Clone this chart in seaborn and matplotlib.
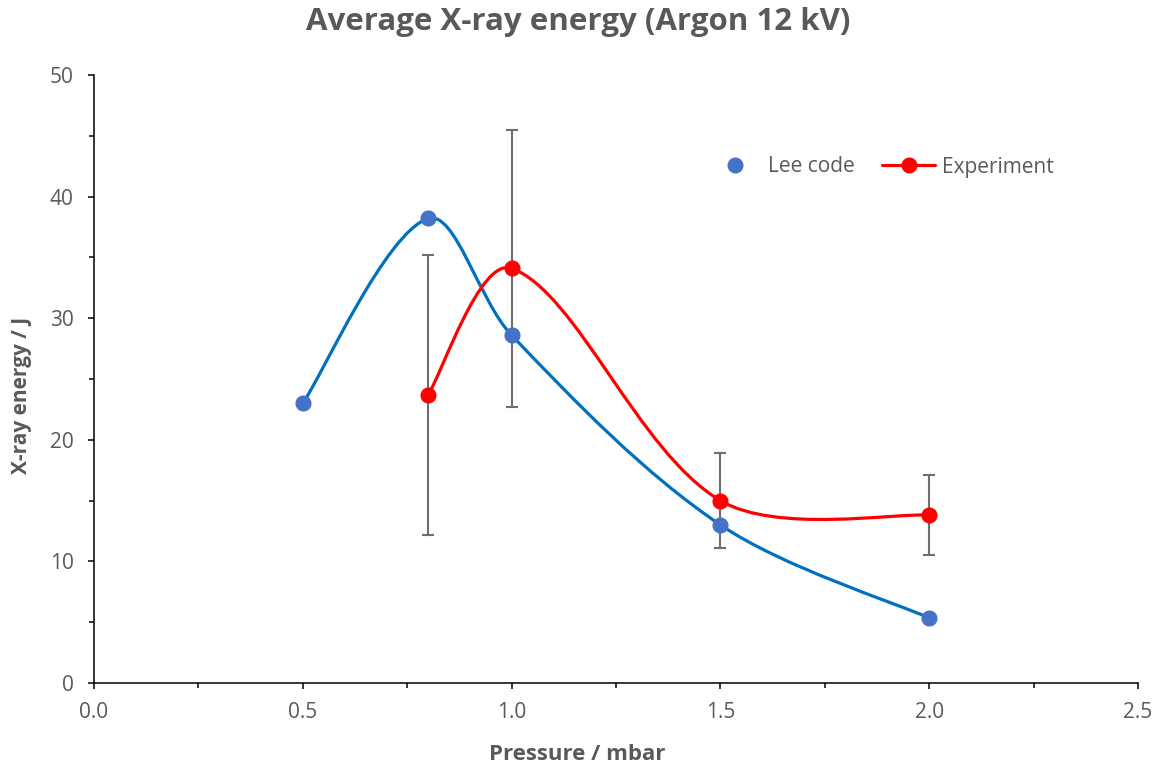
import numpy as np
import pandas as pd
import seaborn as sns
import matplotlib
matplotlib.use("Agg")
import matplotlib.pyplot as plt
from matplotlib.path import Path
from matplotlib.patches import PathPatch
from matplotlib.lines import Line2D
from matplotlib.ticker import MultipleLocator, FormatStrFormatter

# ---- data ----
lee_pressure = [0.5, 0.8, 1.0, 1.5, 2.0]
lee_energy = [23.0, 38.2, 28.6, 13.0, 5.35]
exp_pressure = [0.8, 1.0, 1.5, 2.0]
exp_energy = [23.7, 34.1, 15.0, 13.8]
exp_error = [11.5, 11.4, 3.9, 3.3]
title = "Average X-ray energy (Argon 12 kV)"
xlabel = "Pressure / mbar"
ylabel = "X-ray energy / J"

sns.set_theme(style="white")
plt.rcParams['font.family'] = ['Open Sans', 'DejaVu Sans']

GRAY = "#595959"
BLUE_LINE = "#0070C0"
BLUE_MARK = "#4472C4"
RED = "#FF0000"

fig = plt.figure(figsize=(11.57, 7.71), dpi=100)
ax = fig.add_axes([94/1157, 1-683/771, (1138-94)/1157, (683-75)/771])
ax.set_xlim(0, 2.5)
ax.set_ylim(0, 50)


def smooth_path(xs, ys):
    """Smoothed line through the points (Bezier, tangents scaled by
    neighbouring segment lengths in screen space)."""
    data = np.column_stack([xs, ys]).astype(float)
    scr = ax.transData.transform(data)
    n = len(scr)
    out = [scr[0]]
    codes = [Path.MOVETO]
    for i in range(n - 1):
        p0 = scr[i - 1] if i > 0 else scr[i]
        p1 = scr[i]
        p2 = scr[i + 1]
        p3 = scr[i + 2] if i + 2 < n else scr[i + 1]
        d01 = np.linalg.norm(p1 - p0)
        d12 = np.linalg.norm(p2 - p1)
        d23 = np.linalg.norm(p3 - p2)
        if i > 0:
            c1 = p1 + (p2 - p0) * d12 / (d01 + d12) / 3.0
        else:
            c1 = p1 + (p2 - p1) / 6.0
        if i + 2 < n:
            c2 = p2 - (p3 - p1) * d12 / (d12 + d23) / 3.0
        else:
            c2 = p2 - (p2 - p1) / 6.0
        out += [c1, c2, p2]
        codes += [Path.CURVE4] * 3
    verts = ax.transData.inverted().transform(np.array(out))
    return Path(verts, codes)


ax.add_patch(PathPatch(smooth_path(lee_pressure, lee_energy), fill=False,
                       edgecolor=BLUE_LINE, lw=2.3, zorder=2, capstyle='round'))
ax.add_patch(PathPatch(smooth_path(exp_pressure, exp_energy), fill=False,
                       edgecolor=RED, lw=2.3, zorder=2, capstyle='round'))

ax.errorbar(exp_pressure, exp_energy, yerr=exp_error, fmt='none',
            ecolor="#6E6E6E", elinewidth=1.5, capsize=4, capthick=1.5, zorder=1)

df_lee = pd.DataFrame({"p": lee_pressure, "e": lee_energy})
df_exp = pd.DataFrame({"p": exp_pressure, "e": exp_energy})
sns.scatterplot(data=df_lee, x="p", y="e", ax=ax, color=BLUE_MARK, s=115,
                edgecolor=BLUE_MARK, zorder=3, legend=False)
sns.scatterplot(data=df_exp, x="p", y="e", ax=ax, color=RED, s=115,
                edgecolor=RED, zorder=3, legend=False)

ax.set_xlim(0, 2.5)
ax.set_ylim(0, 50)
ax.xaxis.set_major_locator(MultipleLocator(0.5))
ax.xaxis.set_minor_locator(MultipleLocator(0.25))
ax.yaxis.set_major_locator(MultipleLocator(10))
ax.yaxis.set_minor_locator(MultipleLocator(5))
ax.xaxis.set_major_formatter(FormatStrFormatter('%.1f'))

for side in ["top", "right"]:
    ax.spines[side].set_visible(False)
for side in ["left", "bottom"]:
    ax.spines[side].set_color("#000000")
    ax.spines[side].set_linewidth(1.1)

ax.tick_params(axis='both', which='both', direction='out', color='black',
               labelcolor=GRAY, labelsize=15)
ax.tick_params(axis='both', which='major', length=4.5, width=1.1, bottom=True, left=True)
ax.tick_params(axis='both', which='minor', length=3.8, width=1.1, bottom=True, left=True)
ax.tick_params(axis='x', pad=9)
ax.tick_params(axis='y', pad=10)

ax.set_xlabel("")
ax.set_ylabel("")
fig.text(577/1157, 1-754/771, xlabel, ha='center', va='center', fontsize=16,
         fontweight='bold', color=GRAY)
fig.text(22/1157, 1-395/771, ylabel, ha='center', va='center', fontsize=15,
         fontweight='bold', color=GRAY, rotation=90)
fig.text(578/1157, 1-22/771, title, ha='center', va='center', fontsize=22.5,
         fontweight='bold', color=GRAY)

handles = [
    Line2D([], [], color=BLUE_MARK, marker='o', markersize=10.5, linestyle='none'),
    Line2D([], [], color=RED, marker='o', markersize=10.5, lw=2.3),
]
ax.legend(handles, ["Lee code", "Experiment"], loc='center',
          bbox_to_anchor=(881/1157, 1-167/771), bbox_transform=fig.transFigure,
          ncol=2, frameon=False, fontsize=15, labelcolor=GRAY,
          handlelength=2.55, handletextpad=0.33, columnspacing=1.3)

fig.savefig("out.png", dpi=100)
